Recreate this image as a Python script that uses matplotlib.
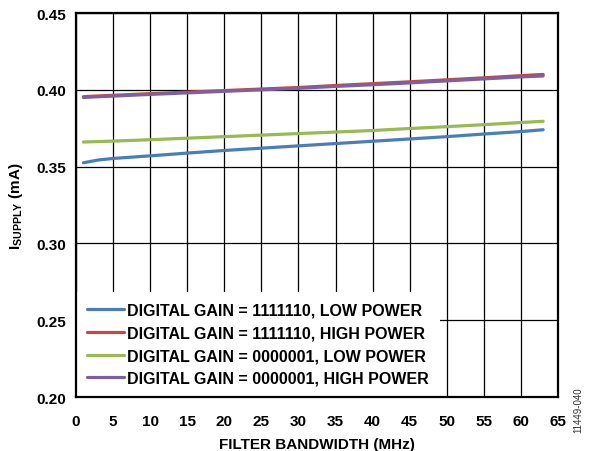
import numpy as np
from matplotlib import pyplot as plt

plt.rcParams['font.family'] = 'Liberation Sans'
plt.rcParams['font.weight'] = 'bold'
plt.rcParams['mathtext.fontset'] = 'custom'
plt.rcParams['mathtext.rm'] = 'Liberation Sans:bold'
plt.rcParams['mathtext.bf'] = 'Liberation Sans:bold'

bw = [1, 3, 5, 10, 15, 20, 25, 30, 35, 40, 45, 50, 55, 60, 63]
gain_hi_low = [0.3525, 0.3543, 0.3553, 0.3570, 0.3588, 0.3605, 0.3620, 0.3635,
               0.3650, 0.3665, 0.3680, 0.3695, 0.3712, 0.3728, 0.3740]
gain_hi_high = [0.3955, 0.3960, 0.3964, 0.3975, 0.3985, 0.3995, 0.4005, 0.4015,
                0.4028, 0.4040, 0.4052, 0.4065, 0.4078, 0.4092, 0.4100]
gain_lo_low = [0.3660, 0.3663, 0.3666, 0.3675, 0.3685, 0.3695, 0.3705, 0.3715,
               0.3725, 0.3735, 0.3748, 0.3760, 0.3773, 0.3787, 0.3795]
gain_lo_high = [0.3950, 0.3955, 0.3959, 0.3970, 0.3980, 0.3990, 0.4000, 0.4010,
                0.4022, 0.4033, 0.4045, 0.4058, 0.4071, 0.4084, 0.4090]

names = ['DIGITAL GAIN = 1111110, LOW POWER',
         'DIGITAL GAIN = 1111110, HIGH POWER',
         'DIGITAL GAIN = 0000001, LOW POWER',
         'DIGITAL GAIN = 0000001, HIGH POWER']
colors = ['#4A7EBB', '#BE4B48', '#98B954', '#7D60A0']
series = [gain_hi_low, gain_hi_high, gain_lo_low, gain_lo_high]

fig = plt.figure(figsize=(5.89, 4.52), dpi=100)
ax = fig.add_axes([76/589, 1-398/452, (558-76)/589, (398-14)/452])

for name, c, y in zip(names, colors, series):
    ax.plot(bw, y, color=c, lw=2.3, label=name, solid_capstyle='round')

ax.set_xlim(0, 65)
ax.set_ylim(0.20, 0.45)
ax.set_xticks(np.arange(0, 66, 5))
ax.set_yticks(np.arange(0.20, 0.451, 0.05))
ax.set_yticklabels([f'{v:.2f}' for v in np.arange(0.20, 0.451, 0.05)])
ax.grid(True, color='black', lw=0.9)
ax.set_axisbelow(True)
ax.tick_params(length=0, labelsize=11)
ax.tick_params(axis='x', pad=12)
ax.tick_params(axis='y', pad=7)
for s in ax.spines.values():
    s.set_linewidth(1.6)
    s.set_zorder(6)

ax.set_xlabel('FILTER BANDWIDTH (MHz)', fontsize=11, fontweight='bold', labelpad=7)
ax.set_ylabel(r'I$_{\mathrm{SUPPLY}}$ (mA)', fontsize=11, fontweight='bold', labelpad=8)

leg = ax.legend(loc='lower left', bbox_to_anchor=(0, 0), borderaxespad=0,
                frameon=True, fancybox=False, framealpha=1, edgecolor='none',
                fontsize=11.5, handlelength=2.3, handletextpad=0.22,
                labelspacing=0.48, borderpad=0.7)
leg.get_frame().set_linewidth(0)

fig.text(578/589, 1-410/452, '11449-040', rotation=90, fontsize=7,
         fontweight='normal', ha='center', va='center', color='#333333')

fig.savefig('out.png', dpi=100)
